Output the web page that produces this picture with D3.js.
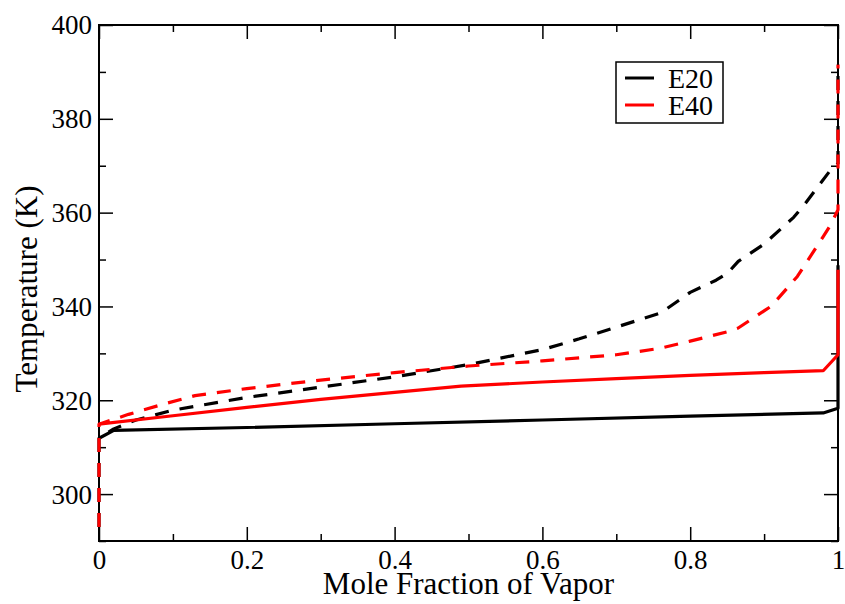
<!DOCTYPE html>
<html>
<head>
<meta charset="utf-8">
<script src="https://cdn.jsdelivr.net/npm/d3@7"></script>
<style>
  body { margin: 0; background: #fff; }
</style>
</head>
<body>
<div id="chart"></div>
<script>
// data: [mole fraction, temperature K]
var e20Solid = [[0, 311.9], [0.02, 313.6], [0.2, 314.2], [0.4, 315.0], [0.6, 315.8],
  [0.8, 316.6], [0.98, 317.3], [1.0, 318.3], [1.0, 348.8]];
var e20Dashed = [[0, 293.0], [0, 311.9], [0.02, 313.9], [0.05, 315.8], [0.1, 317.9],
  [0.2, 320.6], [0.3, 322.8], [0.4, 325.0], [0.5, 327.6], [0.6, 330.8], [0.65, 333.1],
  [0.7, 335.6], [0.76, 338.6], [0.8, 343.0], [0.835, 345.6], [0.85, 347.0],
  [0.865, 349.6], [0.9, 353.3], [0.94, 359.0], [0.955, 361.8], [0.99, 369.1],
  [1.0, 370.5], [1.0, 391.5]];
var e40Solid = [[0, 314.9], [0.1, 316.7], [0.2, 318.5], [0.3, 320.2], [0.4, 321.7],
  [0.49, 323.0], [0.6, 323.9], [0.7, 324.6], [0.8, 325.3], [0.9, 325.9],
  [0.98, 326.3], [1.0, 329.7], [1.0, 347.8]];
var e40Dashed = [[0, 293.0], [0, 314.9], [0.04, 317.0], [0.09, 319.3], [0.13, 321.0],
  [0.2, 322.5], [0.3, 324.3], [0.4, 325.9], [0.5, 327.3], [0.6, 328.4], [0.7, 329.7],
  [0.76, 331.1], [0.8, 332.6], [0.85, 334.6], [0.865, 335.4], [0.91, 340.1],
  [0.945, 346.4], [0.98, 354.9], [0.99, 357.4], [1.0, 360.6], [1.0, 391.5]];

var legendNames = ["E20", "E40"];
var xMajor = [0, 0.2, 0.4, 0.6, 0.8, 1];
var xMinor = [0.1, 0.3, 0.5, 0.7, 0.9];
var yMajor = [300, 320, 340, 360, 380, 400];
var yMinor = [290, 310, 330, 350, 370, 390];

var serif = "Liberation Serif";

var width = 845;
var height = 604;
var margin = {left: 99, right: 7, top: 25, bottom: 63};
var plotW = width - margin.left - margin.right;
var plotH = height - margin.top - margin.bottom;

var svg = d3.select("#chart")
  .append("svg")
  .attr("width", width)
  .attr("height", height)
  .attr("font-family", serif);

var g = svg.append("g")
  .attr("transform", `translate(${margin.left}, ${margin.top})`);

var x = d3.scaleLinear().domain([0, 1]).range([0, plotW]);
var y = d3.scaleLinear().domain([290, 400]).range([plotH, 0]);

// ticks point inward on all four sides
function tickAxis(axis, vals, size, labels) {
  return axis.tickValues(vals).tickSizeInner(size).tickSizeOuter(0)
    .tickFormat(labels ? d3.format("") : "");
}

function styleAxis(sel) {
  sel.attr("font-family", serif).attr("font-size", 27);
  sel.select(".domain").remove();
  sel.selectAll(".tick line").attr("stroke", "#000").attr("stroke-width", 1.5);
  sel.selectAll("text").attr("font-family", serif).attr("font-size", 27).attr("fill", "#000");
}

// bottom
g.append("g").attr("transform", `translate(0,${plotH})`)
  .call(tickAxis(d3.axisBottom(x), xMajor, -14, true)).call(styleAxis)
  .selectAll("text").attr("dy", "0.71em").attr("y", 9);
g.append("g").attr("transform", `translate(0,${plotH})`)
  .call(tickAxis(d3.axisBottom(x), xMinor, -7, false)).call(styleAxis);
// top
g.append("g").call(tickAxis(d3.axisTop(x), xMajor, -14, false)).call(styleAxis);
g.append("g").call(tickAxis(d3.axisTop(x), xMinor, -7, false)).call(styleAxis);
// left
g.append("g")
  .call(tickAxis(d3.axisLeft(y), yMajor, -14, true)).call(styleAxis)
  .selectAll("text").attr("x", -7).attr("dy", "0.33em");
g.append("g").call(tickAxis(d3.axisLeft(y), yMinor, -7, false)).call(styleAxis);
// right
g.append("g").attr("transform", `translate(${plotW},0)`)
  .call(tickAxis(d3.axisRight(y), yMajor, -14, false)).call(styleAxis);
g.append("g").attr("transform", `translate(${plotW},0)`)
  .call(tickAxis(d3.axisRight(y), yMinor, -7, false)).call(styleAxis);

// frame
g.append("rect")
  .attr("width", plotW)
  .attr("height", plotH)
  .attr("fill", "none")
  .attr("stroke", "#000")
  .attr("stroke-width", 2);

var line = d3.line()
  .x(d => x(d[0]))
  .y(d => y(d[1]));

var series = [
  {data: e20Solid, color: "#000", dash: null},
  {data: e20Dashed, color: "#000", dash: "14,11"},
  {data: e40Solid, color: "#ff0000", dash: null},
  {data: e40Dashed, color: "#ff0000", dash: "14,11"}
];

g.selectAll(".curve")
  .data(series)
  .enter()
  .append("path")
  .attr("class", "curve")
  .attr("d", d => line(d.data))
  .attr("fill", "none")
  .attr("stroke", d => d.color)
  .attr("stroke-width", 3.2)
  .attr("stroke-linejoin", "round")
  .attr("stroke-dasharray", d => d.dash);

// axis titles
svg.append("text")
  .attr("x", margin.left + plotW / 2)
  .attr("y", 594)
  .attr("text-anchor", "middle")
  .attr("font-family", serif)
  .attr("font-size", 31)
  .text("Mole Fraction of Vapor");

svg.append("text")
  .attr("transform", `translate(37, ${margin.top + plotH / 2 + 6}) rotate(-90)`)
  .attr("text-anchor", "middle")
  .attr("font-family", serif)
  .attr("font-size", 31)
  .text("Temperature (K)");

// legend
var legend = svg.append("g");
legend.append("rect")
  .attr("x", 616).attr("y", 62)
  .attr("width", 107).attr("height", 61)
  .attr("fill", "#fff")
  .attr("stroke", "#000")
  .attr("stroke-width", 1.5);

var legendColors = ["#000", "#ff0000"];
legendNames.forEach(function(name, i) {
  legend.append("line")
    .attr("x1", 625).attr("x2", 654)
    .attr("y1", 78 + i * 27).attr("y2", 78 + i * 27)
    .attr("stroke", legendColors[i])
    .attr("stroke-width", 3);
  legend.append("text")
    .attr("x", 668)
    .attr("y", 88 + i * 27)
    .attr("font-family", serif)
    .attr("font-size", 28)
    .text(name);
});
</script>
</body>
</html>
